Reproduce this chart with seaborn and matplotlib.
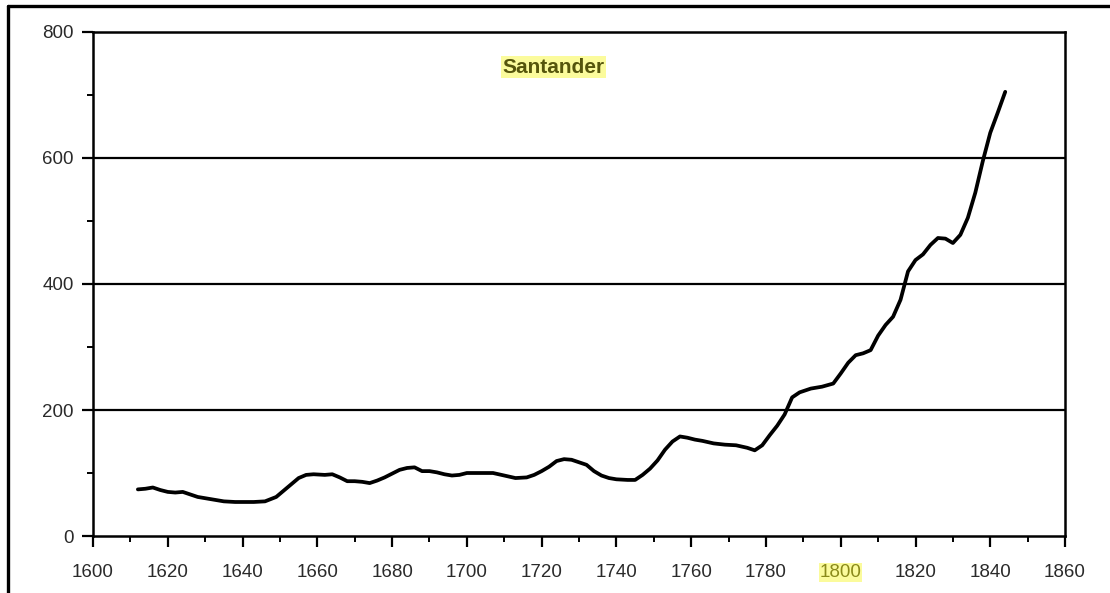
import matplotlib
matplotlib.use("Agg")
import matplotlib.pyplot as plt
from matplotlib.lines import Line2D
from matplotlib.ticker import MultipleLocator
import seaborn as sns
import pandas as pd

# Valores (Santander)
years = [1612, 1614, 1616, 1618, 1620, 1622, 1624, 1626, 1628, 1631, 1633, 1635,
         1638, 1641, 1643, 1646, 1649, 1651, 1653, 1655, 1657, 1659, 1662, 1664,
         1666, 1668, 1670, 1672, 1674, 1676, 1678, 1680, 1682, 1684, 1686, 1688,
         1690, 1692, 1694, 1696, 1698, 1700, 1703, 1707, 1710, 1713, 1716, 1718,
         1720, 1722, 1724, 1726, 1728, 1730, 1732, 1734, 1736, 1738, 1740, 1743,
         1745, 1747, 1749, 1751, 1753, 1755, 1757, 1759, 1761, 1763, 1766, 1769,
         1772, 1775, 1777, 1779, 1781, 1783, 1785, 1787, 1789, 1792, 1795, 1798,
         1800, 1802, 1804, 1806, 1808, 1810, 1812, 1814, 1816, 1818, 1820, 1822,
         1824, 1826, 1828, 1830, 1832, 1834, 1836, 1838, 1840, 1842, 1844]
values = [74, 75, 77, 73, 70, 69, 70, 66, 62, 59, 57, 55,
          54, 54, 54, 55, 62, 72, 82, 92, 97, 98, 97, 98,
          93, 87, 87, 86, 84, 88, 93, 99, 105, 108, 109, 103,
          103, 101, 98, 96, 97, 100, 100, 100, 96, 92, 93, 97,
          103, 110, 119, 122, 121, 117, 113, 103, 96, 92, 90, 89,
          89, 97, 107, 120, 137, 150, 158, 156, 153, 151, 147, 145,
          144, 140, 136, 144, 160, 175, 193, 220, 228, 234, 237, 242,
          258, 275, 287, 290, 295, 318, 335, 348, 375, 420, 438, 447,
          462, 473, 472, 465, 478, 505, 545, 595, 640, 672, 705]

x_ticks = list(range(1600, 1861, 20))
y_ticks = [0, 200, 400, 600, 800]
title = "Santander"

df = pd.DataFrame({"ano": years, "valor": values})

sns.set_theme(style="ticks")
plt.rcParams["font.family"] = ["Liberation Sans", "DejaVu Sans"]

fig = plt.figure(figsize=(11.1, 5.93), dpi=100)
ax = fig.add_axes([0.0838, 0.0961, 0.8757, 0.8500])

# linhas de grade horizontais
for yv in y_ticks[1:-1]:
    ax.axhline(yv, color="black", lw=1.6, zorder=1)

sns.lineplot(data=df, x="ano", y="valor", ax=ax, color="black", lw=2.7, zorder=3)

ax.set_xlim(1600, 1860)
ax.set_ylim(0, 800)
ax.set_xticks(x_ticks)
ax.set_yticks(y_ticks)
ax.xaxis.set_minor_locator(MultipleLocator(10))
ax.yaxis.set_minor_locator(MultipleLocator(100))
ax.set_xlabel("")
ax.set_ylabel("")

for s in ax.spines.values():
    s.set_color("black")
    s.set_linewidth(1.8)

ax.tick_params(axis="both", which="major", length=8, width=1.6, color="black",
               labelsize=13.5, labelcolor="#2a2a2a")
ax.tick_params(axis="both", which="minor", length=4, width=1.4, color="black")
ax.tick_params(axis="x", which="major", pad=12)
ax.tick_params(axis="y", which="major", pad=6)

# destaque amarelo no rótulo 1800
for lbl in ax.get_xticklabels():
    if lbl.get_text() == "1800":
        lbl.set_color("#8a8a1a")
        lbl.set_bbox(dict(facecolor="#fbfb9c", edgecolor="none", pad=0.5))

ax.text(0.474, 0.930, title, transform=ax.transAxes, ha="center", va="center",
        fontsize=15, fontweight="bold", color="#55550c",
        bbox=dict(facecolor="#fbfb9c", edgecolor="none", pad=1))

# moldura parcial (topo e esquerda)
fig.add_artist(Line2D([0.0072, 1.0], [0.9899, 0.9899], transform=fig.transFigure,
                      color="black", lw=2.4))
fig.add_artist(Line2D([0.0072, 0.0072], [0.0, 0.9899], transform=fig.transFigure,
                      color="black", lw=2.4))

fig.savefig("out.png", dpi=100)
